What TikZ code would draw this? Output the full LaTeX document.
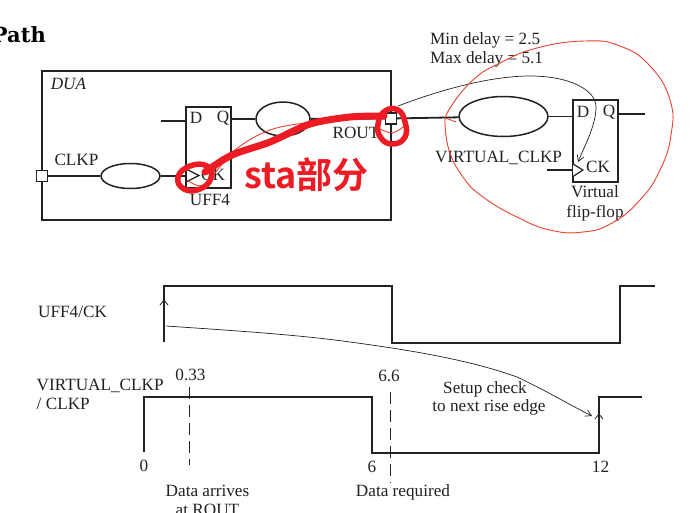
\documentclass[tikz,border=0pt]{standalone}
\usepackage{fontspec}
\setmainfont{Liberation Serif}
\newfontfamily\cjkbold{Noto Sans CJK SC Bold}
\newfontfamily\slabfont{DejaVu Serif}
\usetikzlibrary{arrows.meta,shapes.geometric}
\definecolor{ink}{HTML}{222222}
\definecolor{marker}{HTML}{ED1C24}
\definecolor{thinred}{HTML}{E8432E}
\tikzset{
  wire/.style={draw=ink,line width=1.8pt},
  thin wire/.style={draw=ink,line width=0.7pt,-{Straight Barb[length=6pt,width=7pt]}},
  wave/.style={draw=ink,line width=1.9pt},
  dashwire/.style={draw=ink,line width=0.8pt,dash pattern=on 12pt off 6pt},
  lbl/.style={text=ink,inner sep=0pt,font=\fontsize{17.2}{19.5}\selectfont,align=center},
  lbll/.style={lbl,align=left},
  blob/.style={draw=ink,line width=1.5pt,ellipse,inner sep=0pt},
  port/.style={draw=ink,fill=white,line width=1.3pt,rectangle,minimum size=11pt,inner sep=0pt},
  ffbox/.style={draw=ink,line width=1.4pt,rectangle,minimum width=45pt,inner sep=0pt},
  markerstroke/.style={draw=marker,line cap=round,line join=round},
  fineline/.style={draw=thinred,line width=0.9pt},
}
\begin{document}
\begin{tikzpicture}[x=1pt,y=-1pt]
\useasboundingbox (0,0) rectangle (699,512);
\fill[white] (0,0) rectangle (699,512);
\node[anchor=east,inner sep=0pt,font=\slabfont\bfseries\fontsize{21}{24}\selectfont] (title) at (46,35) {Path};

% DUA block
\node[draw=ink,line width=1.4pt,rectangle,minimum width=349pt,minimum height=149pt,inner sep=0pt] (dua) at (216.5,145.5) {};
\node[lbl,font=\itshape\fontsize{17.2}{19.5}\selectfont] (dualbl) at (68.5,84) {DUA};
\node[blob,minimum width=59pt,minimum height=25pt] (e1) at (130.5,176) {};
\node[ffbox,minimum height=81pt] (ff1) at (208.5,147.5) {};
\node[blob,minimum width=54pt,minimum height=34pt] (e2) at (283,119) {};
\node[port] (clkp) at (42,176) {};
\node[port] (rout) at (391,118.5) {};
\coordinate (din) at (161,121);
\coordinate (clkin) at (186,176);
\draw[wire] (clkp) -- (e1);
\draw[wire] (e1) -- (clkin);
\draw[wire] (din) -- (din -| ff1.west);
\draw[wire] (ff1.east |- e2) -- (e2);
\draw[wire] (e2) -- (rout);
\draw[draw=ink,line width=1.3pt] (186,169) -- (199,175.5) -- (186,182);
\node[lbl] (clkplbl) at (76.5,160) {CLKP};
\node[lbl] (d1) at (196,118) {D};
\node[lbl] (q1) at (223,118) {Q};
\node[lbl] (ck1) at (213,174.5) {CK};
\node[lbl] (uff4) at (210,200) {UFF4};
\node[lbl] (routlbl) at (356,133) {ROUT};

% Virtual flip-flop
\node[blob,minimum width=89pt,minimum height=40pt] (e3) at (503.5,116.5) {};
\node[ffbox,minimum height=82pt] (ff2) at (595.5,141) {};
\coordinate (qout) at (645,114);
\coordinate (vclk) at (547,170);
\draw[wire] (rout) -- (e3);
\draw[wire] (e3) -- (ff2.west |- e3);
\draw[wire] (ff2.east |- qout) -- (qout);
\draw[wire] (vclk) -- (vclk -| ff2.west);
\draw[draw=ink,line width=1.2pt,fill=white] (573,164) -- (583,170) -- (573,176.5);
\node[lbl] (d2) at (583,112) {D};
\node[lbl] (q2) at (609,112) {Q};
\node[lbl] (ck2) at (598,167) {CK};
\node[lbl] (vck) at (498.5,158) {VIRTUAL\_CLKP};
\node[lbl] (vff) at (595,203.5) {Virtual\\flip-flop};
\node[lbll,anchor=west] (delay) at (430,50) {Min delay = 2.5\\Max delay = 5.1};
\coordinate (ck2tip) at (578,162);
\coordinate (routout) at (398,106);
\draw[thin wire] (routout) .. controls (440,90) and (490,76) .. (530,76)
  .. controls (570,76) and (596,90) .. (596,107)
  .. controls (596,125) and (585,145) .. (ck2tip);

% Waveforms
\coordinate (ua) at (164,342);
\coordinate (ub) at (164,286);
\coordinate (uc) at (392,286);
\coordinate (ud) at (392,343);
\coordinate (ue) at (620,343);
\coordinate (uf) at (620,286);
\coordinate (ug) at (655,286);
\draw[wave] (ua) -- (ub) -- (uc) -- (ud) -- (ue) -- (uf) -- (ug);
\draw[draw=ink,line width=0.8pt] (160,305) -- (164,300) -- (168,305);
\coordinate (va) at (144,452);
\coordinate (vb) at (144,397);
\coordinate (vc) at (372,397);
\coordinate (vd) at (372,453);
\coordinate (ve) at (599,453);
\coordinate (vf) at (599,397);
\coordinate (vg) at (642,397);
\draw[wave] (va) -- (vb) -- (vc) -- (vd) -- (ve) -- (vf) -- (vg);
\draw[draw=ink,line width=0.8pt] (595,419) -- (599,414) -- (603,419);
\coordinate (da) at (189,387);
\coordinate (db) at (189,465);
\draw[dashwire] (da) -- (db);
\coordinate (dc) at (390,392);
\coordinate (dd) at (390,483);
\draw[dashwire] (dc) -- (dd);
\coordinate (sa) at (166,326);
\coordinate (sb) at (592,416);
\draw[thin wire] (sa) .. controls (240,331) and (300,335) .. (350,342)
  .. controls (410,350) and (470,360) .. (517,377)
  .. controls (545,390) and (570,405) .. (sb);
\node[lbl,anchor=west] (w1) at (38,312) {UFF4/CK};
\node[lbll,anchor=west] (w2) at (36.5,394.5) {VIRTUAL\_CLKP\\/ CLKP};
\node[lbl] (t033) at (190.5,375) {0.33};
\node[lbl] (t0) at (144,466) {0};
\node[lbl] (t66) at (389,376) {6.6};
\node[lbl] (t6) at (372,467) {6};
\node[lbl] (t12) at (600.5,467) {12};
\node[lbl,anchor=north] (arr) at (207.5,484.5) {Data arrives\\at ROUT};
\node[lbl] (req) at (403,492) {Data required};
\node[lbl] (setup1) at (485,389) {Setup check};
\node[lbl] (setup2) at (489,407.5) {to next rise edge};

% Hand-drawn red markup
\draw[fineline] plot[smooth,tension=0.8] coordinates {(445,122) (449,150) (463,177) (483,197) (517,217) (550,230) (583,232) (612,223) (640,200) (660,170) (671,135) (670,100) (650,66) (620,46) (585,41) (537,48) (500,63) (473,80) (450,108) (445,122)};
\draw[fineline] (445,118) .. controls (449,119) and (453,121) .. (456,122);
\draw[fineline] plot[smooth,tension=0.6] coordinates {(187,180) (200,186) (211,178) (235,150) (270,130) (312,122) (350,118)};
\draw[fineline] plot[smooth,tension=0.6] coordinates {(378,128) (392,133) (403,127)};
\draw[markerstroke,line width=5.5pt] plot[smooth cycle,tension=0.8] coordinates {(178,177) (190,166) (207,166) (211,178) (200,189) (184,189)};
\draw[markerstroke,line width=7pt] plot[smooth,tension=0.5] coordinates {(205,172) (232,155) (270,142) (310,124) (350,117) (384,116)};
\draw[markerstroke,line width=5.5pt] plot[smooth cycle,tension=0.8] coordinates {(378,124) (385,111) (398,110) (405,122) (405,137) (393,144) (381,138)};
\node[inner sep=0pt,text=marker,font=\cjkbold\fontsize{36}{40}\selectfont] (sta) at (306.5,174.5) {sta部分};
\end{tikzpicture}
\end{document}
